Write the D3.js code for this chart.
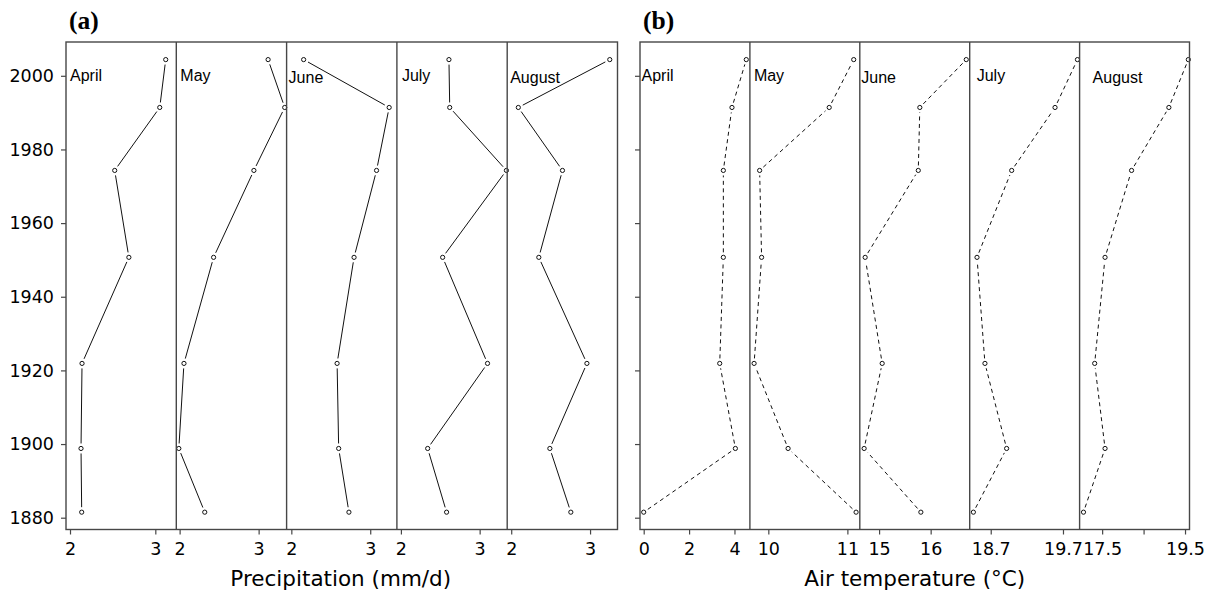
<!DOCTYPE html>
<html>
<head>
<meta charset="utf-8">
<script src="https://cdn.jsdelivr.net/npm/d3@7"></script>
<style>
  html, body { margin: 0; padding: 0; background: #fff; }
  svg { display: block; }
</style>
</head>
<body>
<svg id="chart" width="1216" height="593"></svg>
<script>
// ---------------- DATA ----------------
const years = [1881.5, 1898.8, 1921.9, 1950.7, 1974.3, 1991.4, 2004.4];
const months = ["April", "May", "June", "July", "August"];

// Precipitation (mm/d)
const precipApril  = [2.137, 2.129, 2.141, 2.69, 2.524, 3.052, 3.122];
const precipMay    = [2.318, 1.99, 2.055, 2.43, 2.94, 3.33, 3.12];
const precipJune   = [2.73, 2.60, 2.58, 2.795, 3.08, 3.24, 2.156];
const precipJuly   = [2.58, 2.34, 3.10, 2.53, 3.34, 2.62, 2.61];
const precipAugust = [2.756, 2.49, 2.96, 2.35, 2.65, 2.09, 3.25];

// Air temperature (°C)
const tempApril  = [0.0, 4.04, 3.35, 3.51, 3.51, 3.89, 4.52];
const tempMay    = [11.11, 10.25, 9.82, 9.915, 9.89, 10.77, 11.08];
const tempJune   = [15.81, 14.71, 15.06, 14.73, 15.76, 15.79, 16.69];
const tempJuly   = [18.46, 18.92, 18.62, 18.51, 18.99, 19.59, 19.90];
const tempAugust = [17.05, 17.57, 17.32, 17.57, 18.21, 19.11, 19.58];

// Tick values / labels
const yearTicks = [1880, 1900, 1920, 1940, 1960, 1980, 2000];
const precipTicks = [[2, 3], [2, 3], [2, 3], [2, 3], [2, 3]];
const tempTicks = [[0, 2, 4], [10, 11], [15, 16], [18.7, 19.7], [17.5, 18.5, 19.5]];
const tempTickLabels = [["0", "2", "4"], ["10", "11"], ["15", "16"], ["18.7", "19.7"], ["17.5", "", "19.5"]];
const precipTickLabels = [["2", "3"], ["2", "3"], ["2", "3"], ["2", "3"], ["2", "3"]];

// Per-panel x scale limits (as in the original free scales)
const precipDomains = [[1.953, 3.246], [1.958, 3.354], [1.940, 3.338], [1.949, 3.350], [1.949, 3.348]];
const tempDomains = [[-0.163, 4.68], [9.767, 11.157], [14.626, 16.757], [18.409, 19.93], [16.956, 19.608]];

// ---------------- LAYOUT ----------------
const svg = d3.select("#chart");
const frameTop = 42, frameBottom = 529.5;
const y = d3.scaleLinear().domain([1880, 2000]).range([517.7, 75.8]);

const panels = [
  { id: "(a)", left: 66, right: 617.5, series: [precipApril, precipMay, precipJune, precipJuly, precipAugust],
    domains: precipDomains, ticks: precipTicks, tickLabels: precipTickLabels, dashed: false,
    yLabels: true, title: "Precipitation (mm/d)", labelDx: [4, 4, 2, 5, 3], labelDy: [0, 0, 2, 0, 2], titleX: 69 },
  { id: "(b)", left: 640, right: 1189.5, series: [tempApril, tempMay, tempJune, tempJuly, tempAugust],
    domains: tempDomains, ticks: tempTicks, tickLabels: tempTickLabels, dashed: true,
    yLabels: false, title: "Air temperature (°C)", labelDx: [1.5, 4, 1.5, 7, 13], labelDy: [0, 0, 2, 0, 2], titleX: 643 }
];

const frameColor = "#474747";
const tickFont = "'DejaVu Sans', sans-serif";
const gap = 5; // gap between line and point (type "b")

panels.forEach(p => {
  const g = svg.append("g");
  const w = (p.right - p.left) / months.length;

  // Panel title
  g.append("text")
    .attr("x", p.titleX).attr("y", 29)
    .attr("font-family", "'Liberation Serif', 'Times New Roman', serif")
    .attr("font-weight", "bold").attr("font-size", 25.5)
    .attr("fill", "#000")
    .text(p.id);

  // Y axis ticks
  const yAxis = d3.axisLeft(y).tickValues(yearTicks).tickSize(5).tickPadding(7)
    .tickFormat(p.yLabels ? d3.format("d") : () => "");
  const ya = g.append("g").attr("transform", `translate(${p.left},0)`).call(yAxis);
  ya.select(".domain").remove();
  ya.selectAll(".tick line").attr("stroke", frameColor).attr("stroke-width", 1.2);
  ya.selectAll(".tick text").attr("font-family", tickFont).attr("font-size", 17.5).attr("fill", "#000");

  months.forEach((m, i) => {
    const x0 = p.left + i * w, x1 = x0 + w;
    const x = d3.scaleLinear().domain(p.domains[i]).range([x0, x1]);

    // X axis
    const xAxis = d3.axisBottom(x).tickValues(p.ticks[i]).tickSize(5).tickPadding(8)
      .tickFormat((d, k) => p.tickLabels[i][k]);
    const xa = g.append("g").attr("transform", `translate(0,${frameBottom})`).call(xAxis);
    xa.select(".domain").remove();
    xa.selectAll(".tick line").attr("stroke", frameColor).attr("stroke-width", 1.2);
    xa.selectAll(".tick text").attr("font-family", tickFont).attr("font-size", 17.5).attr("fill", "#000");

    // Line segments with gaps around points
    const vals = p.series[i];
    const pts = vals.map((v, k) => [x(v), y(years[k])]);
    const segs = [];
    for (let k = 0; k < pts.length - 1; k++) {
      const [ax, ay] = pts[k], [bx, by] = pts[k + 1];
      const dx = bx - ax, dy = by - ay, len = Math.hypot(dx, dy);
      if (len <= 2 * gap) continue;
      const ux = dx / len, uy = dy / len;
      segs.push([[ax + ux * gap, ay + uy * gap], [bx - ux * gap, by - uy * gap]]);
    }
    g.append("g").selectAll("line").data(segs).join("line")
      .attr("x1", d => d[0][0]).attr("y1", d => d[0][1])
      .attr("x2", d => d[1][0]).attr("y2", d => d[1][1])
      .attr("stroke", "#111").attr("stroke-width", 1)
      .attr("stroke-dasharray", p.dashed ? "4,3.5" : null);

    // Points
    g.append("g").selectAll("circle").data(vals).join("circle")
      .attr("cx", d => x(d)).attr("cy", (d, k) => y(years[k]))
      .attr("r", 2.1).attr("fill", "#fff").attr("stroke", "#111").attr("stroke-width", 1);

    // Month label
    g.append("text")
      .attr("x", x0 + p.labelDx[i]).attr("y", 81 + p.labelDy[i])
      .attr("font-family", "'Liberation Sans', Arial, sans-serif")
      .attr("font-size", 16).attr("fill", "#000")
      .text(m);

    // Divider
    if (i > 0) {
      g.append("line").attr("x1", x0).attr("x2", x0).attr("y1", frameTop).attr("y2", frameBottom)
        .attr("stroke", frameColor).attr("stroke-width", 1.4);
    }
  });

  // Frame
  g.append("rect").attr("x", p.left).attr("y", frameTop)
    .attr("width", p.right - p.left).attr("height", frameBottom - frameTop)
    .attr("fill", "none").attr("stroke", frameColor).attr("stroke-width", 1.4);

  // Axis title
  g.append("text")
    .attr("x", (p.left + p.right) / 2 + (p.yLabels ? -1 : 0)).attr("y", 586)
    .attr("text-anchor", "middle")
    .attr("font-family", tickFont).attr("font-size", 21.5).attr("fill", "#000")
    .text(p.title);
});
</script>
</body>
</html>
